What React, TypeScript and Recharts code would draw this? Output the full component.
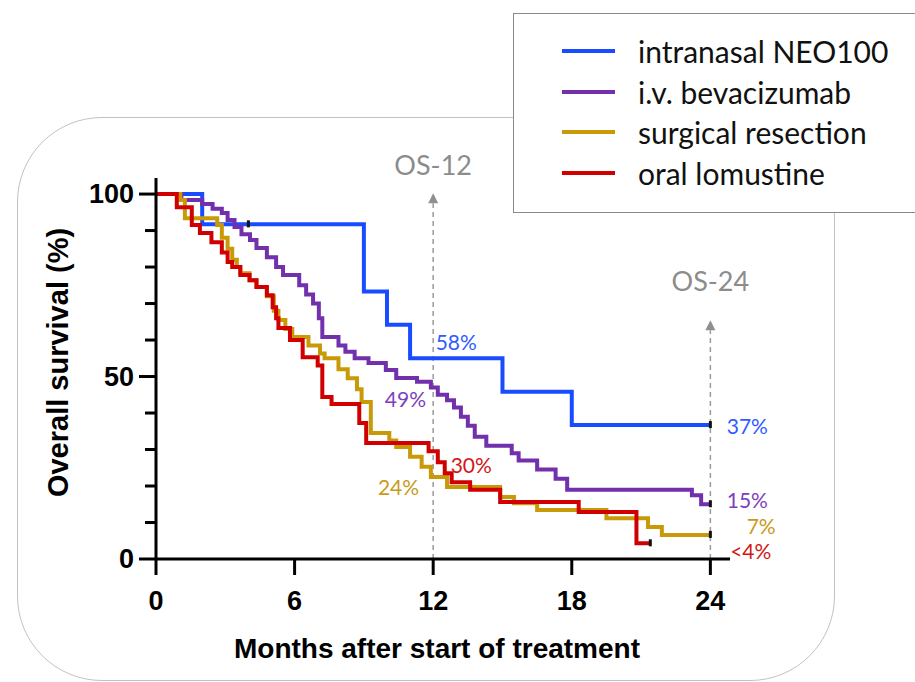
import React from 'react';
import {
  ComposedChart,
  Line,
  Scatter,
  XAxis,
  YAxis,
  Legend,
  ReferenceLine,
  ReferenceDot,
} from 'recharts';

// Kaplan-Meier steps: time (months) where survival drops, value after the drop
const neoT = [0, 2, 9, 10, 11, 15, 18, 24];
const neoS = [100, 91.7, 73.3, 64.2, 55.0, 45.8, 36.7, 36.7];

const bevT = [0, 1.1, 2.0, 2.45, 2.85, 3.1, 3.4, 3.7, 4.07, 4.35, 4.8, 5.2, 5.5, 6.2, 6.5, 6.8, 7.05, 7.2, 7.9, 8.2, 8.6, 9.2, 9.95, 10.4, 11.3, 11.9, 12.2, 12.6, 12.9, 13.2, 13.5, 13.8, 14.3, 15.4, 15.7, 16.5, 17.3, 17.8, 23.2, 23.6, 24];
const bevS = [100, 98.4, 97.3, 96, 94.8, 92.9, 91, 89, 87.4, 85.2, 82.7, 80, 77.8, 75, 72.5, 70, 66, 60.8, 58.5, 56.8, 55, 53.7, 51.8, 49.6, 48.6, 47, 45, 43.5, 41.5, 39, 36.5, 33.5, 31, 29, 27, 24.5, 22, 19, 17.5, 15, 15];

const surT = [0, 1.05, 1.25, 2.65, 2.85, 3.1, 3.3, 3.5, 3.65, 4.05, 4.35, 4.8, 5.1, 5.3, 5.6, 5.9, 6.6, 7.1, 7.3, 7.9, 8.3, 8.7, 8.9, 9.3, 10.1, 10.4, 11.0, 11.5, 11.9, 12.6, 14.9, 15.5, 16.5, 19.5, 21.3, 21.9, 24];
const surS = [100, 98.4, 93.4, 91.5, 88, 85, 82, 80, 78.3, 76.4, 74.5, 72, 68, 65.5, 63, 60.8, 58.5, 56.3, 55, 52, 49.5, 46.5, 43, 34.5, 32.5, 30.7, 28, 25.3, 22.5, 19.7, 17, 15.3, 13.4, 11.2, 8.8, 6.6, 6.6];

const lomT = [0, 0.9, 1.55, 1.9, 2.4, 2.85, 3.1, 3.3, 3.65, 4.05, 4.35, 4.8, 5.05, 5.2, 5.3, 5.8, 6.35, 7.0, 7.2, 7.6, 8.8, 9.1, 11.8, 12.2, 12.5, 12.8, 13.6, 14.9, 18.3, 20.8, 21.4];
const lomS = [100, 96.4, 91.5, 89.3, 86.8, 84, 81.4, 80, 77.8, 76.4, 74.5, 72.3, 69, 66, 63.3, 60, 55.3, 53, 44.4, 42.5, 37.3, 31.8, 29.5, 26.5, 23.5, 21, 19, 15.6, 12.9, 4.3, 4.3];

const seriesNames = ['intranasal NEO100', 'i.v. bevacizumab', 'surgical resection', 'oral lomustine'];
const seriesColors = ['#1a4cff', '#7230ac', '#c99a08', '#d00000'];

// censored observations
const censorT = [4, 24, 24, 24, 21.4];
const censorS = [91.7, 36.7, 15, 6.6, 4.3];

// survival-rate annotations
const pctText = ['58%', '49%', '30%', '24%', '37%', '15%', '7%', '<4%'];
const pctT = [13.0, 10.8, 13.65, 10.5, 25.6, 25.6, 26.2, 25.75];
const pctS = [59.7, 44.1, 26.0, 20.0, 36.7, 16.2, 9.2, 2.2];
const pctColor = ['#2f5cff', '#7e3fbc', '#d01818', '#c99a1a', '#2f5cff', '#7e3fbc', '#c99a1a', '#d01818'];

const xTicks = [0, 6, 12, 18, 24];
const yTicks = [0, 10, 20, 30, 40, 50, 60, 70, 80, 90, 100];

// OS-12 / OS-24 markers: time, arrow top, label position
const osText = ['OS-12', 'OS-24'];
const osT = [12, 24];
const osTop = [97.5, 62.7];
const osLabelS = [108, 76.4];

const toPoints = (ts: number[], ss: number[]) => ts.map((t, i) => ({ t, s: ss[i] }));
const seriesData = [toPoints(neoT, neoS), toPoints(bevT, bevS), toPoints(surT, surS), toPoints(lomT, lomS)];
const censorData = toPoints(censorT, censorS);

const boldFont = '"Liberation Sans", Arial, sans-serif';
const softFont = 'Lato, "Open Sans", sans-serif';

const YTick = (props: any) => {
  const { x, y, payload } = props;
  const major = payload.value % 50 === 0;
  return (
    <g>
      <line x1={x - (major ? 17 : 11)} x2={x} y1={y} y2={y} stroke="#000" strokeWidth={3} />
      {major && (
        <text x={x - 22} y={y} textAnchor="end" dominantBaseline="central"
          fontFamily={boldFont} fontWeight="bold" fontSize={27} fill="#000">
          {payload.value}
        </text>
      )}
    </g>
  );
};

const XTick = (props: any) => {
  const { x, y, payload } = props;
  return (
    <g>
      <line x1={x} x2={x} y1={y} y2={y + 16} stroke="#000" strokeWidth={3} />
      <text x={x} y={y + 42} textAnchor="middle" dominantBaseline="central"
        fontFamily={boldFont} fontWeight="bold" fontSize={27} fill="#000">
        {payload.value}
      </text>
    </g>
  );
};

const LegendBox = (props: any) => {
  const items = (props.payload || [])
    .filter((p: any) => seriesNames.includes(p.value))
    .sort((a: any, b: any) => seriesNames.indexOf(a.value) - seriesNames.indexOf(b.value));
  return (
    <div style={{
      width: 404, height: 200, background: '#fff', border: '1.5px solid #8a8a8a',
      boxSizing: 'border-box', paddingTop: 17,
    }}>
      {items.map((p: any) => (
        <div key={p.value} style={{ display: 'flex', alignItems: 'center', height: 40.5 }}>
          <div style={{ width: 53, height: 4, background: p.color, marginLeft: 48, marginRight: 23 }} />
          <span style={{ fontFamily: softFont, fontSize: 30, color: '#111', whiteSpace: 'nowrap', lineHeight: '40px' }}>{p.value}</span>
        </div>
      ))}
    </div>
  );
};

const App = () => {
  return (
    <div style={{ position: 'absolute', left: 0, top: 0, width: 915, height: 682, overflow: 'hidden', background: '#fff' }}>
      <div style={{
        position: 'absolute', left: 17, top: 117, width: 818, height: 564,
        border: '1.5px solid #c2c2c2', borderRadius: 85, boxSizing: 'border-box',
      }} />
      <div style={{ position: 'absolute', left: 0, top: 0 }}>
        <ComposedChart width={915} height={682} margin={{ top: 178, right: 185, bottom: 63, left: 56 }}>
          <XAxis
            type="number" dataKey="t" domain={[0, 24.85]} ticks={xTicks} allowDataOverflow
            height={60} tickSize={0} tickMargin={0} tickLine={false} tick={<XTick />}
            axisLine={{ stroke: '#000', strokeWidth: 3 }}
            label={{
              content: (p: any) => (
                <text x={p.viewBox.x + p.viewBox.width / 2 - 6} y={648} textAnchor="middle" dominantBaseline="central"
                  fontFamily={boldFont} fontWeight="bold" fontSize={28} fill="#000">
                  Months after start of treatment
                </text>
              ),
            }}
          />
          <YAxis
            type="number" dataKey="s" domain={[0, 104.4]} ticks={yTicks} allowDataOverflow
            width={100} tickSize={0} tickMargin={0} tickLine={false} tick={<YTick />}
            axisLine={{ stroke: '#000', strokeWidth: 3 }}
            label={{
              content: (p: any) => {
                const cx = p.viewBox.x + 2;
                const cy = p.viewBox.y + p.viewBox.height / 2 - 6;
                return (
                  <text x={cx} y={cy} transform={`rotate(-90, ${cx}, ${cy})`} textAnchor="middle" dominantBaseline="central"
                    fontFamily={boldFont} fontWeight="bold" fontSize={29} fill="#000">
                    Overall survival (%)
                  </text>
                );
              },
            }}
          />
          {osT.map((t, i) => (
            <ReferenceLine key={`os-line-${i}`} segment={[{ x: t, y: 0 }, { x: t, y: osTop[i] }]}
              stroke="#9a9a9a" strokeWidth={1.5} strokeDasharray="5 4" ifOverflow="visible" />
          ))}
          {osT.map((t, i) => (
            <ReferenceDot key={`os-head-${i}`} x={t} y={osTop[i]} ifOverflow="visible"
              shape={(p: any) => (
                <path d={`M${p.cx - 5},${p.cy} L${p.cx + 5},${p.cy} L${p.cx},${p.cy - 10} Z`} fill="#8f8f8f" />
              )} />
          ))}
          {osT.map((t, i) => (
            <ReferenceDot key={`os-text-${i}`} x={t} y={osLabelS[i]} ifOverflow="visible"
              shape={(p: any) => (
                <text x={p.cx} y={p.cy} textAnchor="middle" dominantBaseline="central"
                  fontFamily={softFont} fontSize={27} fill="#8c8c8c">
                  {osText[i]}
                </text>
              )} />
          ))}
          {seriesData.map((d, i) => (
            <Line key={seriesNames[i]} data={d} dataKey="s" name={seriesNames[i]} type="stepAfter"
              stroke={seriesColors[i]} strokeWidth={4} dot={false} activeDot={false}
              isAnimationActive={false} />
          ))}
          <Scatter data={censorData} dataKey="s" legendType="none" isAnimationActive={false}
            shape={(p: any) => <rect x={p.cx - 1.5} y={p.cy - 4} width={3} height={7} fill="#111" />} />
          {pctText.map((txt, i) => (
            <ReferenceDot key={`pct-${i}`} x={pctT[i]} y={pctS[i]} ifOverflow="visible"
              shape={(p: any) => (
                <text x={p.cx} y={p.cy} textAnchor="middle" dominantBaseline="central"
                  fontFamily={softFont} fontSize={21} fill={pctColor[i]}>
                  {txt}
                </text>
              )} />
          ))}
          <Legend layout="vertical" align="center" verticalAlign="middle" content={<LegendBox />}
            wrapperStyle={{ position: 'absolute', left: 513, top: 13, width: 404 }} />
        </ComposedChart>
      </div>
    </div>
  );
};

export default App;
